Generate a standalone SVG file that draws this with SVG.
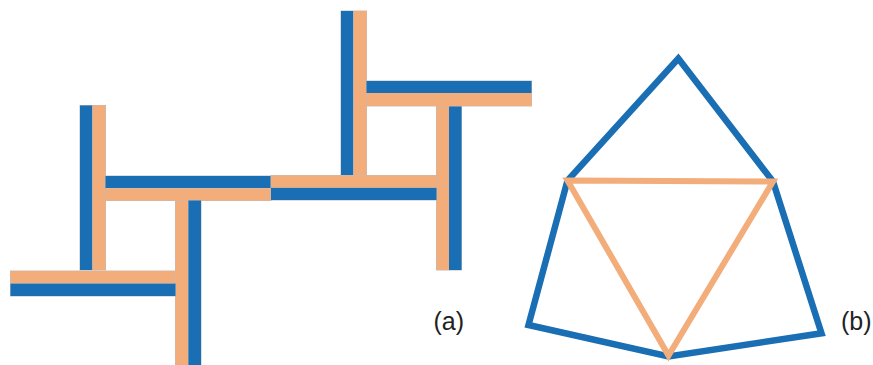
<svg xmlns="http://www.w3.org/2000/svg" width="873" height="365" viewBox="0 0 873 365">
<style>
.b{fill:#1A6EB4}
.o{fill:#F3AD7B}
.sh{fill:none;stroke:#BDBDBD;stroke-width:1}
.lbl{font-family:"Liberation Sans",Arial,sans-serif;font-size:25px;fill:#222}
.pb{fill:none;stroke:#1A6EB4;stroke-width:6.5;stroke-linejoin:miter}
.po{fill:none;stroke:#F3AD7B;stroke-width:6;stroke-linejoin:miter}
</style>
<rect width="873" height="365" fill="#fff"/>
<g id="part-a">
  <g id="bar-v1">
    <rect class="sh" x="80" y="105.5" width="25.5" height="164.5"/>
    <rect class="b" x="80" y="105.5" width="12.5" height="164.5"/>
    <rect class="o" x="92.5" y="105.5" width="13" height="164.5"/>
  </g>
  <g id="bar-h1">
    <rect class="sh" x="105.5" y="176" width="165.5" height="24.5"/>
    <rect class="b" x="105.5" y="176" width="165.5" height="12.3"/>
    <rect class="o" x="105.5" y="188.3" width="165.5" height="12.2"/>
  </g>
  <g id="bar-v2">
    <rect class="sh" x="175.5" y="200.5" width="25.5" height="165"/>
    <rect class="o" x="175.5" y="200.5" width="12.8" height="165"/>
    <rect class="b" x="188.3" y="200.5" width="12.7" height="165"/>
  </g>
  <g id="bar-h2">
    <rect class="sh" x="10.5" y="271" width="165" height="25"/>
    <rect class="o" x="10.5" y="271" width="165" height="12.5"/>
    <rect class="b" x="10.5" y="283.5" width="165" height="12.5"/>
  </g>
  <g id="bar-v3">
    <rect class="sh" x="341" y="11" width="25.5" height="164.5"/>
    <rect class="b" x="341" y="11" width="12.5" height="164.5"/>
    <rect class="o" x="353.5" y="11" width="13" height="164.5"/>
  </g>
  <g id="bar-h3">
    <rect class="sh" x="366.5" y="81" width="165" height="25"/>
    <rect class="b" x="366.5" y="81" width="165" height="12"/>
    <rect class="o" x="366.5" y="93" width="165" height="13"/>
  </g>
  <g id="bar-v4">
    <rect class="sh" x="436.5" y="106.5" width="25" height="163.5"/>
    <rect class="o" x="436.5" y="106.5" width="12.5" height="163.5"/>
    <rect class="b" x="449" y="106.5" width="12.5" height="163.5"/>
  </g>
  <g id="bar-h4">
    <rect class="sh" x="271" y="175.5" width="165.5" height="24.5"/>
    <rect class="o" x="271" y="175.5" width="165.5" height="12.3"/>
    <rect class="b" x="271" y="187.8" width="165.5" height="12.2"/>
  </g>
  <text class="lbl" x="433.5" y="330">(a)</text>
</g>
<g id="part-b">
  <g id="connectors">
    <polygon id="outer" class="pb" points="678.3,58.5 773,181.5 821.5,333.3 668.5,356.5 528.5,325 567.5,180.5"/>
    <polygon id="inner" class="po" points="567.5,180.5 773,181.5 668.5,355.5"/>
  </g>
  <text class="lbl" x="841" y="330">(b)</text>
</g>
</svg>
